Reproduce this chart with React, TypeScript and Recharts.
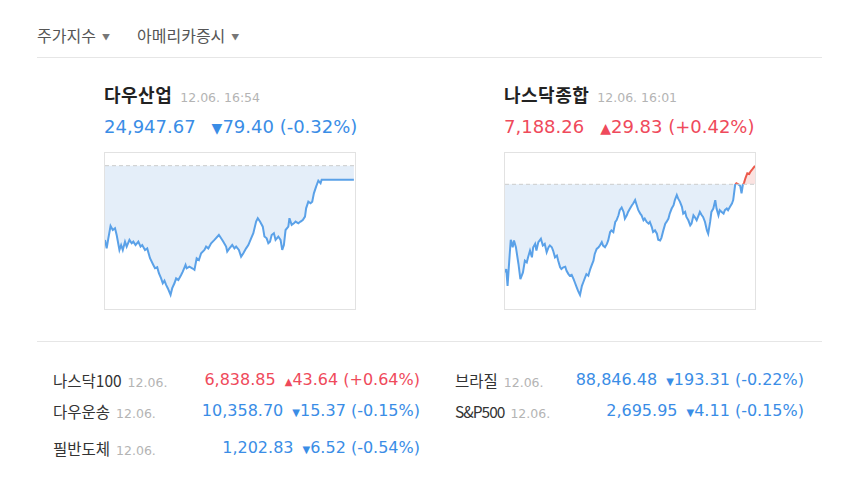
import { Area, AreaChart, ReferenceLine, XAxis, YAxis } from 'recharts';

// [minutes since 09:30, index value]
const dowPoints: [number, number][] = [
	[0, 24606], [3, 24558], [6, 24615], [10, 24685], [14, 24662], [18, 24672], [21, 24634],
	[26, 24549], [29, 24577], [32, 24549], [36, 24596], [39, 24568], [44, 24606], [48, 24587],
	[51, 24596], [55, 24577], [60, 24596], [64, 24568], [67, 24577], [72, 24549], [76, 24558],
	[81, 24502], [87, 24464], [90, 24445], [94, 24451], [97, 24417], [101, 24388], [104, 24360],
	[107, 24375], [110, 24351], [113, 24332], [118, 24294], [121, 24332], [125, 24360], [128, 24388],
	[132, 24379], [137, 24407], [140, 24426], [145, 24464], [147, 24445], [152, 24454], [157, 24445],
	[161, 24436], [165, 24502], [169, 24492], [173, 24530], [179, 24549], [182, 24568], [186, 24558],
	[191, 24587], [197, 24606], [205, 24634], [209, 24615], [213, 24596], [218, 24568], [220, 24540],
	[224, 24558], [229, 24577], [233, 24558], [236, 24568], [241, 24549], [245, 24511], [249, 24530],
	[254, 24558], [258, 24577], [263, 24615], [267, 24644], [272, 24710], [275, 24729], [279, 24710],
	[284, 24681], [287, 24625], [291, 24615], [294, 24587], [297, 24596], [300, 24634], [304, 24644],
	[307, 24606], [312, 24625], [316, 24606], [319, 24549], [322, 24577], [325, 24662], [330, 24681],
	[332, 24729], [336, 24691], [340, 24700], [343, 24710], [348, 24700], [352, 24710], [356, 24719],
	[360, 24738], [362, 24785], [366, 24823], [370, 24814], [373, 24823], [376, 24870], [380, 24908],
	[384, 24942], [388, 24927], [390, 24947.67], [448, 24947.67],
];

const nasdaqPoints: [number, number][] = [
	[0, 7016.1], [2, 7021.5], [4, 6994.4], [7, 7040.5], [9, 7068.8], [12, 7056.8], [14, 7067.7],
	[17, 7056.8], [21, 7029.7], [24, 7005.2], [28, 7016.1], [31, 7035.1], [34, 7032.4], [36, 7040.5],
	[39, 7051.4], [42, 7040.5], [44, 7056.8], [47, 7062.2], [49, 7051.4], [52, 7065.0], [56, 7070.4],
	[59, 7059.5], [62, 7062.2], [65, 7048.7], [68, 7056.8], [70, 7059.5], [73, 7056.8], [75, 7051.4],
	[78, 7040.5], [81, 7043.3], [83, 7035.1], [86, 7024.3], [88, 7021.5], [91, 7024.3], [94, 7025.3],
	[96, 7018.8], [99, 7013.4], [101, 7010.7], [104, 7012.3], [107, 7005.2], [109, 6999.8], [112, 6991.7],
	[114, 6986.2], [117, 6979.7], [120, 6994.4], [122, 6999.8], [125, 7008.0], [127, 7013.4], [130, 7010.7],
	[133, 7021.5], [135, 7027.0], [138, 7035.1], [140, 7046.0], [143, 7054.1], [146, 7056.8], [148, 7059.5],
	[151, 7065.0], [153, 7059.5], [156, 7056.8], [159, 7062.2], [161, 7067.7], [164, 7081.3], [166, 7084.0],
	[169, 7081.3], [172, 7097.6], [174, 7100.3], [177, 7108.4], [179, 7116.6], [182, 7120.9], [185, 7113.8],
	[187, 7103.0], [190, 7108.4], [192, 7113.8], [195, 7119.3], [198, 7124.7], [200, 7127.4], [203, 7132.9],
	[205, 7126.3], [208, 7116.6], [211, 7111.1], [213, 7108.4], [216, 7100.3], [218, 7103.0], [221, 7097.6],
	[224, 7094.9], [226, 7097.6], [229, 7089.4], [231, 7081.3], [234, 7084.0], [237, 7078.6], [239, 7068.8],
	[242, 7067.7], [244, 7072.0], [247, 7084.0], [250, 7094.9], [252, 7097.6], [255, 7103.0], [257, 7111.1],
	[260, 7119.3], [263, 7124.7], [265, 7132.9], [268, 7141.0], [270, 7135.6], [273, 7130.1], [276, 7122.0],
	[278, 7111.1], [281, 7113.8], [283, 7105.7], [286, 7100.3], [289, 7092.1], [291, 7094.9], [294, 7108.4],
	[296, 7105.7], [299, 7100.3], [302, 7108.4], [304, 7113.8], [307, 7108.4], [309, 7105.7], [312, 7097.6],
	[315, 7084.0], [317, 7078.6], [320, 7097.6], [322, 7113.8], [325, 7119.3], [328, 7132.9], [330, 7119.3],
	[333, 7108.4], [335, 7116.6], [338, 7113.8], [341, 7111.1], [343, 7116.6], [346, 7119.3], [348, 7116.6],
	[351, 7122.0], [354, 7127.4], [356, 7132.9], [359, 7157.3], [361, 7160.0], [364, 7158.4], [367, 7155.7],
	[369, 7143.7], [371, 7157.3], [373, 7161.1], [375, 7168.1], [378, 7176.3], [381, 7175.2], [383, 7179.0],
	[386, 7182.8], [390, 7188.26],
];

const dowPrevClose = 25027.07;
const nasdaqPrevClose = 7158.43;

const rowNamesLeft = ['나스닥100', '다우운송', '필반도체'];
const rowValuesLeft = ['6,838.85', '10,358.70', '1,202.83'];
const rowChangesLeft = ['43.64', '15.37', '6.52'];
const rowRatesLeft = ['+0.64%', '-0.15%', '-0.54%'];
const rowUpLeft = [true, false, false];

const rowNamesRight = ['브라질', 'S&P500'];
const rowValuesRight = ['88,846.48', '2,695.95'];
const rowChangesRight = ['193.31', '4.11'];
const rowRatesRight = ['-0.22%', '-0.15%'];
const rowUpRight = [false, false];

const BLUE = '#3a8de6';
const RED = '#ef4a5b';
const LINE_BLUE = '#5aa1e8';
const LINE_RED = '#ec5a4c';
const FILL_BLUE = '#e4eef9';
const FILL_RED = '#fbe3e1';
const FONT = '"DejaVu Sans", "Noto Sans CJK KR", sans-serif';
const KR_FONT = '"Noto Sans CJK KR", sans-serif';

function MiniChart({
	id,
	points,
	prevClose,
	domain,
	xMax,
}: {
	id: string;
	points: [number, number][];
	prevClose: number;
	domain: [number, number];
	xMax: number;
}) {
	const data = points.map(([t, v]) => ({ t, v }));
	const vals = points.map((p) => p[1]);
	const hi = Math.max(...vals);
	const lo = Math.min(...vals);
	const split = hi > prevClose;
	const lineSplit = (hi - prevClose) / (hi - lo);
	const fillSplit = (hi - prevClose) / (hi - Math.min(lo, prevClose));

	return (
		<div
			style={{
				width: 252,
				height: 158,
				border: '1px solid #e2e2e2',
				boxSizing: 'border-box',
			}}
		>
			<AreaChart
				width={250}
				height={156}
				data={data}
				margin={{ top: 0, right: 0, bottom: 0, left: 0 }}
			>
				<defs>
					<linearGradient id={`${id}-line`} x1="0" y1="0" x2="0" y2="1">
						<stop offset={lineSplit} stopColor={LINE_RED} />
						<stop offset={lineSplit} stopColor={LINE_BLUE} />
					</linearGradient>
					<linearGradient id={`${id}-fill`} x1="0" y1="0" x2="0" y2="1">
						<stop offset={fillSplit} stopColor={FILL_RED} />
						<stop offset={fillSplit} stopColor={FILL_BLUE} />
					</linearGradient>
				</defs>
				<XAxis dataKey="t" type="number" domain={[0, xMax]} hide />
				<YAxis domain={domain} allowDataOverflow hide />
				<Area
					type="linear"
					dataKey="v"
					baseValue={prevClose}
					stroke={split ? `url(#${id}-line)` : LINE_BLUE}
					strokeWidth={2}
					fill={split ? `url(#${id}-fill)` : FILL_BLUE}
					fillOpacity={1}
					dot={false}
					activeDot={false}
					isAnimationActive={false}
				/>
				<ReferenceLine y={prevClose} stroke="#cccccc" strokeDasharray="4 3" />
			</AreaChart>
		</div>
	);
}

function Txt({
	left,
	right,
	cy,
	size,
	color,
	bold,
	family,
	children,
}: {
	left?: number;
	right?: number;
	cy: number;
	size: number;
	color: string;
	bold?: boolean;
	family?: string;
	children: React.ReactNode;
}) {
	return (
		<div
			style={{
				position: 'absolute',
				left,
				right: right === undefined ? undefined : 860 - right,
				top: cy - 12,
				lineHeight: '24px',
				fontSize: size,
				color,
				fontWeight: bold ? 700 : 400,
				fontFamily: family,
				whiteSpace: 'nowrap',
			}}
		>
			{children}
		</div>
	);
}

function Row({
	nameX,
	rightX,
	cy,
	name,
	value,
	change,
	rate,
	up,
}: {
	nameX: number;
	rightX: number;
	cy: number;
	name: string;
	value: string;
	change: string;
	rate: string;
	up: boolean;
}) {
	const color = up ? RED : BLUE;
	const latin = /^[\x00-\x7f]+$/.test(name);
	return (
		<>
			<Txt left={nameX} cy={cy} size={15.5} color="#333" family={KR_FONT}>
				<span style={{ letterSpacing: latin ? -1 : 0 }}>{name}</span>
				<span style={{ fontSize: 12.5, color: '#b4b4b4', marginLeft: 6, fontFamily: FONT }}>12.06.</span>
			</Txt>
			<Txt right={rightX} cy={cy} size={16} color={color}>
				{value}
				<span style={{ fontSize: 10, marginLeft: 9 }}>{up ? '▲' : '▼'}</span>
				{change} ({rate})
			</Txt>
		</>
	);
}

export default function App() {
	return (
		<div
			style={{
				position: 'absolute',
				left: 0,
				top: 0,
				width: 860,
				height: 480,
				background: '#fff',
				fontFamily: FONT,
			}}
		>
			<Txt left={37} cy={35} size={16} color="#555" family={KR_FONT}>
				주가지수<span style={{ fontSize: 8, marginLeft: 6, color: '#777', verticalAlign: 2 }}>▼</span>
			</Txt>
			<Txt left={137} cy={35} size={16} color="#555" family={KR_FONT}>
				아메리카증시<span style={{ fontSize: 8, marginLeft: 6, color: '#777', verticalAlign: 2 }}>▼</span>
			</Txt>
			<div style={{ position: 'absolute', left: 37, top: 57, width: 785, height: 1, background: '#e6e6e6' }} />

			<Txt left={104} cy={96} size={18} color="#222" bold>
				<span style={{ letterSpacing: 0.5 }}>다우산업</span>
				<span style={{ fontSize: 12.5, fontWeight: 400, color: '#b4b4b4', marginLeft: 8 }}>12.06. 16:54</span>
			</Txt>
			<Txt left={104} cy={127} size={18} color={BLUE}>
				24,947.67
				<span style={{ marginLeft: 16 }}>
					<span style={{ fontSize: 14 }}>▼</span>79.40 (-0.32%)
				</span>
			</Txt>
			<div style={{ position: 'absolute', left: 104, top: 152 }}>
				<MiniChart id="dow" points={dowPoints} prevClose={dowPrevClose} domain={[24214, 25099]} xMax={450} />
			</div>

			<Txt left={504} cy={96} size={18} color="#222" bold>
				<span style={{ letterSpacing: 0.5 }}>나스닥종합</span>
				<span style={{ fontSize: 12.5, fontWeight: 400, color: '#b4b4b4', marginLeft: 8 }}>12.06. 16:01</span>
			</Txt>
			<Txt left={504} cy={127} size={18} color={RED}>
				7,188.26
				<span style={{ marginLeft: 16 }}>
					<span style={{ fontSize: 14 }}>▲</span>29.83 (+0.42%)
				</span>
			</Txt>
			<div style={{ position: 'absolute', left: 504, top: 152 }}>
				<MiniChart id="nasdaq" points={nasdaqPoints} prevClose={nasdaqPrevClose} domain={[6957, 7209]} xMax={390} />
			</div>

			<div style={{ position: 'absolute', left: 37, top: 341, width: 785, height: 1, background: '#e6e6e6' }} />

			{rowNamesLeft.map((name, i) => (
				<Row
					key={name}
					nameX={53}
					rightX={420}
					cy={[380, 411, 448][i]}
					name={name}
					value={rowValuesLeft[i]}
					change={rowChangesLeft[i]}
					rate={rowRatesLeft[i]}
					up={rowUpLeft[i]}
				/>
			))}
			{rowNamesRight.map((name, i) => (
				<Row
					key={name}
					nameX={455}
					rightX={804}
					cy={[380, 411][i]}
					name={name}
					value={rowValuesRight[i]}
					change={rowChangesRight[i]}
					rate={rowRatesRight[i]}
					up={rowUpRight[i]}
				/>
			))}
		</div>
	);
}
